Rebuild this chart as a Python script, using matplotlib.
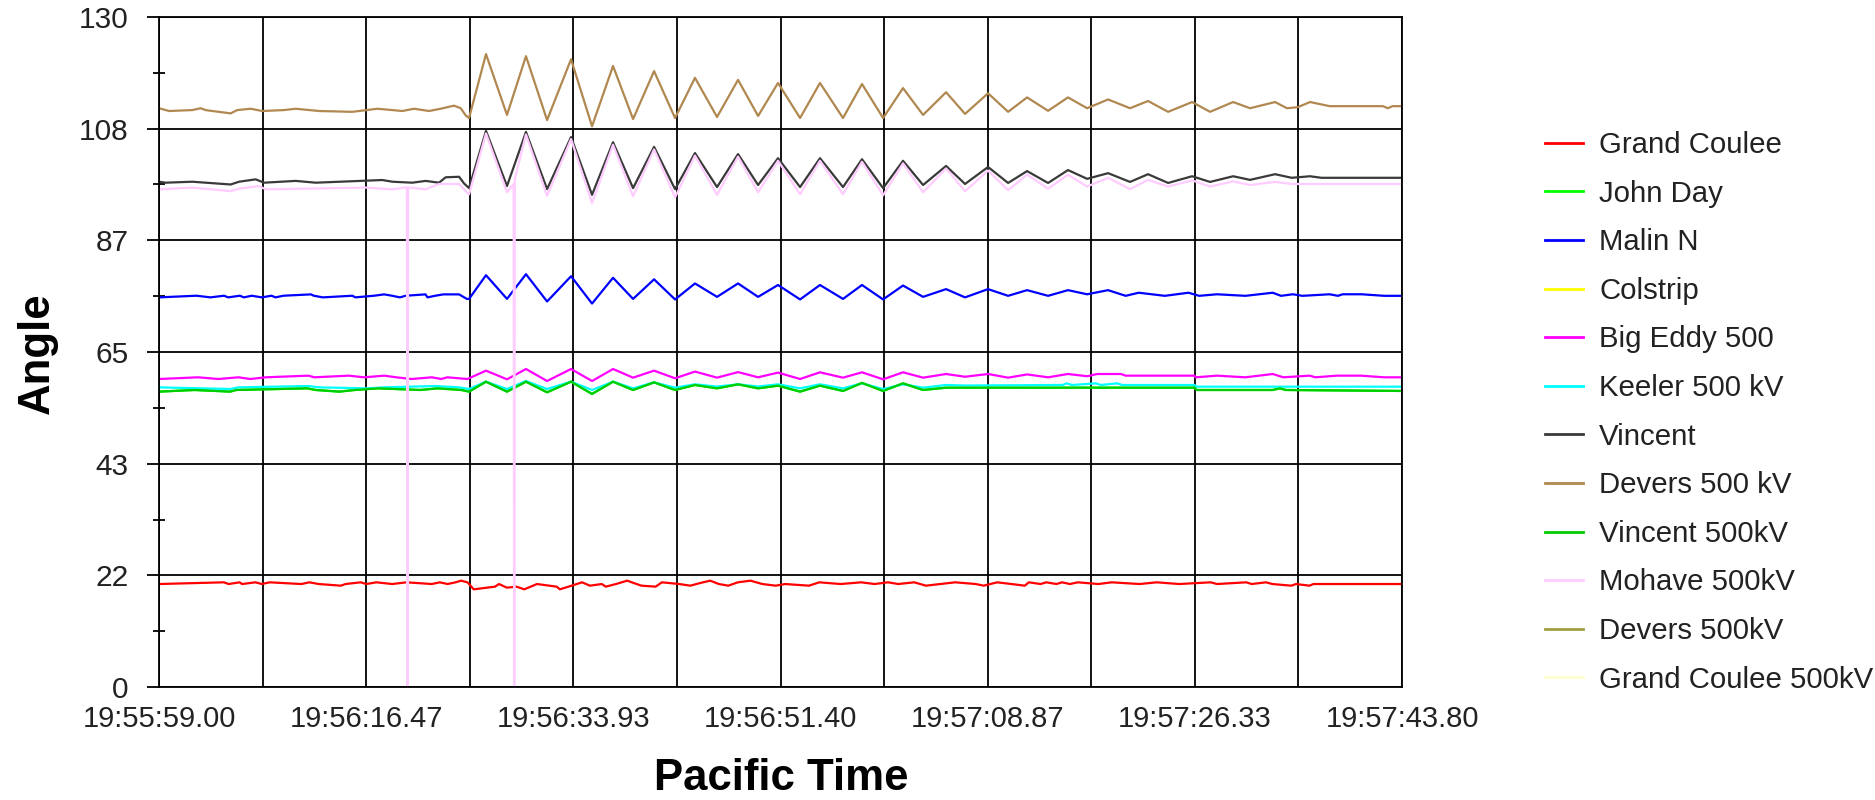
import matplotlib
matplotlib.use("Agg")
import matplotlib.pyplot as plt
import numpy as np

plt.rcParams['font.family'] = ['Liberation Sans', 'DejaVu Sans']

# ---------------- data (time in seconds after 19:55:59.00, angle in degrees) ----------------
x_tick_labels = ['19:55:59.00', '19:56:16.47', '19:56:33.93', '19:56:51.40',
                 '19:57:08.87', '19:57:26.33', '19:57:43.80']
y_tick_labels = ['0', '22', '43', '65', '87', '108', '130']
t_start, t_end = 0.0, 104.8
y_max = 130.0

series_names = ['Grand Coulee', 'John Day', 'Malin N', 'Colstrip', 'Big Eddy 500',
                'Keeler 500 kV', 'Vincent', 'Devers 500 kV', 'Vincent 500kV',
                'Mohave 500kV', 'Devers 500kV', 'Grand Coulee 500kV']
series_colors = ['#FF0000', '#00FF00', '#0000FF', '#FFFF00', '#FF00FF', '#00FFFF',
                 '#3A3A3A', '#B08850', '#00CC00', '#FFCCFF', '#A0A040', '#FFFFCC']

# Grand Coulee (stepped record)
gc_t = [0, 5.47, 5.87, 6.8, 7.0, 8.13, 8.67, 9.33, 12.0, 12.67, 13.47, 15.33, 15.73, 17.0,
        17.47, 18.33, 19.67, 20.87, 23.0, 23.67, 24.33, 25.0, 25.47, 26.0, 26.27, 26.53,
        28.33, 28.67, 29.33, 30.13, 30.8, 31.87, 33.53, 33.8, 34.53, 35.67, 36.33, 37.33,
        37.67, 38.53, 39.47, 40.0, 40.67, 41.87, 42.4, 43.87, 44.8, 45.67, 46.47, 47.2,
        48.0, 48.8, 49.87, 50.87, 52.0, 52.8, 54.8, 55.67, 57.47, 59.2, 60.33, 61.47,
        62.33, 63.67, 64.67, 65.87, 67.13, 68.87, 69.53, 70.67, 71.87, 73.0, 73.33, 74.33,
        74.8, 75.67, 76.13, 76.8, 77.47, 79.2, 80.33, 82.67, 84.13, 86.0, 88.67, 89.2,
        91.67, 92.13, 93.33, 93.87, 95.47, 95.87, 97.0, 97.33, 104.8]
gc_v = [19.98, 20.31, 19.98, 20.31, 19.98, 20.31, 19.98, 20.31, 19.98, 20.31, 19.98, 19.66,
        19.98, 20.31, 19.98, 20.31, 19.98, 20.31, 19.98, 20.31, 19.98, 20.31, 20.63, 20.31,
        19.66, 18.95, 19.47, 19.98, 19.27, 19.47, 18.95, 19.98, 19.47, 18.95, 19.47, 20.31,
        19.66, 19.98, 19.47, 19.98, 20.63, 20.2, 19.66, 19.47, 20.31, 19.98, 19.66, 20.2,
        20.63, 19.98, 19.66, 20.31, 20.63, 19.98, 19.66, 19.98, 19.66, 20.31, 19.98, 20.31,
        19.98, 20.31, 19.98, 20.31, 19.66, 19.98, 20.31, 19.98, 19.66, 20.31, 19.98, 19.66,
        20.31, 19.98, 20.31, 19.98, 20.31, 19.98, 20.31, 19.98, 20.31, 19.98, 20.31, 19.98,
        20.31, 19.98, 20.31, 19.98, 20.31, 19.98, 19.66, 19.98, 19.66, 19.98, 19.98]

# common oscillation instants (peaks / troughs)
osc_t = [26.14, 27.57, 29.34, 30.94, 32.72, 34.74, 36.51, 38.28, 39.97, 41.74, 43.51,
         45.19, 47.05, 48.82, 50.51, 52.19, 54.05, 55.73, 57.67, 59.27, 61.05, 62.73,
         64.42, 66.36]

# Green lines (John Day / Vincent 500kV)
green_t = [0, 3.0, 6.0, 6.5, 12.5, 13.2, 15.2, 16.5, 18.5, 22.0, 23.5, 25.5] + osc_t + \
          [87.3, 87.5, 93.9, 94.5, 95.0, 104.8]
green_v = [57.31, 57.63, 57.31, 57.63, 57.95, 57.63, 57.31, 57.63, 57.95, 57.63, 57.95, 57.63,
           57.31, 59.24, 57.31, 59.24, 57.18, 59.24, 56.86, 59.24, 57.63, 59.11, 57.63, 58.6,
           57.95, 58.73, 57.95, 58.47, 57.31, 58.47, 57.44, 59.0, 57.44, 58.92, 57.63, 58.08,
           58.08, 57.63, 57.63, 57.95, 57.63, 57.44]

# Malin N
malin_t = [0, 3.16, 4.33, 5.49, 5.83, 6.82, 7.16, 7.82, 8.66, 9.49, 9.82, 10.49, 12.82,
           13.05, 13.82, 16.31, 16.55, 18.14, 18.98, 19.64, 20.31, 20.81, 22.47, 22.64,
           23.30, 23.97, 25.30, 25.97] + osc_t + \
          [67.96, 69.90, 71.59, 73.19, 74.96, 76.64, 78.25, 80.02, 81.5, 82.6, 84.8, 86.8,
           87.7, 89.2, 91.6, 93.9, 94.6, 95.6, 96.4, 98.7, 99.4, 99.8, 101.4, 103.3, 104.8]
malin_v = [75.6, 75.92, 75.6, 75.92, 75.6, 75.92, 75.6, 75.92, 75.6, 75.92, 75.6, 75.92, 76.18,
           75.92, 75.6, 75.92, 75.6, 75.92, 76.18, 75.92, 75.6, 75.92, 76.18, 75.6,
           75.92, 76.18, 76.18, 75.28,
           75.3, 79.9, 75.3, 80.1, 74.8, 79.7, 74.4, 79.4, 75.3, 79.1, 75.2, 78.3, 75.7, 78.3,
           75.7, 78.0, 75.2, 78.0, 75.3, 78.0, 75.2, 77.9, 75.7, 77.2,
           75.6, 77.2, 75.9, 77.0, 75.9, 77.0, 76.2, 77.0, 75.9, 76.5, 75.9, 76.5,
           75.9, 76.2, 75.9, 76.5, 75.9, 76.2, 75.9, 76.2, 75.9, 76.2, 76.2, 75.9, 75.9]

# Big Eddy 500
eddy_t = [0, 3.3, 5.0, 6.7, 7.7, 9.0, 12.6, 13.1, 16.0, 17.3, 19.0, 20.0, 21.3, 23.0, 23.8,
          24.3, 26.0] + osc_t[1:] + \
         [67.96, 69.90, 71.59, 73.19, 74.96, 76.64, 78.25, 79.1, 81.1, 81.5, 87.3, 87.4, 89.2,
          91.6, 93.9, 94.8, 97.0, 97.5, 99.3, 101.3, 103.3, 104.8]
eddy_v = [59.76, 60.09, 59.76, 60.09, 59.76, 60.09, 60.41, 60.09, 60.41, 60.09, 60.41, 60.09,
          59.76, 60.09, 59.76, 60.09, 59.76,
          61.38, 59.70, 61.70, 59.37, 61.70, 59.37, 61.70, 60.02, 61.38, 59.9, 61.2, 60.02,
          61.1, 60.09, 61.0, 59.76, 61.06, 60.02, 61.06, 59.70, 61.06, 60.02, 60.73,
          60.2, 60.73, 60.02, 60.65, 60.09, 60.73, 60.3, 60.73, 60.73, 60.41, 60.41, 60.09,
          60.41, 60.09, 60.73, 60.09, 60.41, 60.09, 60.41, 60.41, 60.09, 60.09]

# Keeler 500 kV
keeler_t = [0, 6.0, 6.7, 12.6, 13.5, 17.5, 19.0, 23.3, 25.3] + osc_t + \
           [67.96, 76.2, 76.5, 77.0, 79.0, 79.4, 80.8, 81.2, 87.3, 87.5, 104.8]
keeler_v = [58.14, 57.82, 58.14, 58.4, 58.14, 57.95, 58.14, 58.4, 58.14,
            57.82, 59.24, 57.82, 59.37, 57.82, 59.24, 57.63, 59.24, 57.95, 59.1, 58.08, 58.73,
            58.3, 58.73, 58.3, 58.73, 57.95, 58.73, 57.95, 58.92, 57.82, 58.73, 58.08, 58.6,
            58.5, 58.6, 58.92, 58.6, 58.92, 58.6, 58.92, 58.6, 58.6, 58.27, 58.27]

# Vincent
vincent_t = [0, 0.56, 2.81, 6.04, 6.75, 8.15, 8.85, 11.52, 13.21, 18.83, 19.67, 21.36, 22.48,
             23.61, 24.17, 25.30, 25.72] + osc_t + \
            [67.96, 69.90, 71.59, 73.19, 74.96, 76.64, 78.25, 80.02, 81.87, 83.39, 85.08,
             87.10, 88.62, 90.56, 91.99, 94.10, 95.5, 97.05, 98.0, 104.8]
vincent_v = [98.04, 97.85, 98.04, 97.5, 98.04, 98.5, 97.85, 98.2, 97.85, 98.37, 98.04, 97.85,
             98.2, 97.85, 98.9, 99.0, 97.7,
             96.8, 107.9, 97.2, 107.7, 96.6, 106.7, 95.5, 105.7, 96.8, 104.8, 96.6, 103.6,
             97.0, 103.4, 97.4, 102.6, 97.0, 102.6, 97.0, 102.4, 96.8, 102.1, 97.4, 101.1,
             97.6, 100.9, 97.8, 100.1, 97.8, 100.3, 98.6, 99.7, 98.0, 99.5, 97.8, 99.1, 98.0,
             99.1, 98.4, 99.5, 98.8, 99.1, 98.8, 98.8]

# Devers 500 kV
devers_t = [0, 0.84, 2.81, 3.51, 3.93, 4.50, 6.04, 6.60, 7.73, 8.71, 10.54, 11.52, 13.49,
            16.30, 18.41, 19.67, 20.52, 21.50, 22.77, 23.75, 24.87, 25.44, 25.86] + osc_t + \
           [67.96, 69.90, 71.59, 73.19, 74.96, 76.64, 78.25, 80.02, 81.87, 83.39, 85.08,
            87.10, 88.62, 90.56, 91.99, 94.10, 95.10, 96.0, 97.05, 98.7, 103.2, 103.6, 104.0,
            104.8]
devers_v = [112.3, 111.76, 111.94, 112.3, 111.94, 111.76, 111.3, 111.94, 112.2, 111.76, 111.94,
            112.2, 111.76, 111.6, 112.2, 111.94, 111.76, 112.2, 111.76, 112.2, 112.8, 112.3,
            110.9,
            110.4, 122.8, 111.0, 122.4, 110.0, 121.8, 108.8, 120.5, 110.2, 119.5, 110.4, 118.2,
            110.6, 117.8, 110.8, 117.2, 110.4, 117.2, 110.4, 117.0, 110.4, 116.2, 111.0, 115.4,
            111.2, 115.2, 111.6, 114.4, 111.8, 114.4, 112.3, 114.0, 112.3, 113.7, 111.6, 113.5,
            111.6, 113.5, 112.3, 113.5, 112.3, 112.5, 113.5, 112.7, 112.7, 112.3, 112.7, 112.7]

# Mohave 500kV (two drop-outs to zero)
mohave_t = [0, 2.81, 6.04, 6.75, 8.43, 8.99, 17.43, 19.67, 20.90, 20.95, 21.0, 22.48, 23.61,
            25.30, 25.86, 26.14, 27.57, 29.34, 29.90, 29.95, 30.0, 30.94, 32.72, 34.74, 36.51,
            38.28, 39.97, 41.74, 43.51, 45.19, 47.05, 48.82, 50.51, 52.19, 54.05, 55.73, 57.67,
            59.27, 61.05, 62.73, 64.42, 66.36, 67.96, 69.90, 71.59, 73.19, 74.96, 76.64, 78.25,
            80.02, 81.87, 83.39, 85.08, 87.10, 88.62, 90.56, 91.99, 94.10, 95.5, 104.8]
mohave_v = [96.56, 96.9, 96.2, 96.7, 97.2, 96.56, 96.9, 96.56, 96.95, 0.0, 96.95, 96.56, 97.6,
            97.6, 96.2, 95.6, 107.4, 96.0, 97.6, 0.0, 98.6, 107.2, 95.3, 106.3, 93.9,
            105.2, 95.2, 104.3, 95.0, 103.1, 95.5, 102.9, 96.0, 102.1, 95.6, 102.1, 95.6,
            101.9, 95.4, 101.6, 96.0, 100.6, 96.2, 100.2, 96.4, 99.4, 96.7, 99.4, 97.1,
            98.8, 96.6, 98.4, 97.1, 98.3, 97.1, 98.1, 97.4, 98.0, 97.6, 97.6]

series_t = [gc_t, green_t, malin_t, [], eddy_t, keeler_t, vincent_t, devers_t, green_t,
            mohave_t, [], []]
series_v = [gc_v, green_v, malin_v, [], eddy_v, keeler_v, vincent_v, devers_v, green_v,
            mohave_v, [], []]

# ---------------- figure ----------------
fig = plt.figure(figsize=(18.75, 8), dpi=100)
ax = fig.add_axes([159 / 1875, 1 - 687 / 800, (1402 - 159) / 1875, (687 - 17) / 800])

handles = []
for name, col, tt, vv in zip(series_names, series_colors, series_t, series_v):
    h, = ax.plot(tt, vv, color=col, lw=1.6, label=name, solid_joinstyle='round')
    handles.append(h)

ax.set_xlim(t_start, t_end)
ax.set_ylim(0, y_max)

xt = np.linspace(t_start, t_end, 13)
ax.set_xticks(xt)
ax.set_xticklabels([x_tick_labels[i // 2] if i % 2 == 0 else '' for i in range(13)])
yt = np.linspace(0, y_max, 7)
ax.set_yticks(yt)
ax.set_yticklabels(y_tick_labels)
ax.set_yticks((yt[:-1] + yt[1:]) / 2, minor=True)

ax.tick_params(axis='x', which='major', length=0, pad=13, labelsize=21, labelcolor='#222222')
ax.tick_params(axis='y', which='major', length=9, width=1.3, direction='out', pad=13,
               labelsize=21.5, labelcolor='#222222')
ax.tick_params(axis='y', which='minor', length=9, width=1.3, direction='inout')
ax.grid(True, which='major', color='black', lw=1.3)
ax.set_axisbelow(True)
for s in ax.spines.values():
    s.set_color('black')
    s.set_linewidth(1.3)

fig.text(37 / 1875, 1 - 353 / 800, 'Angle', rotation=90, ha='center', va='center',
         fontsize=31.5, fontweight='bold')
fig.text(781 / 1875, 0.013, 'Pacific Time', ha='center', va='baseline',
         fontsize=31.5, fontweight='bold')

leg = fig.legend(handles=handles, loc='upper left', bbox_to_anchor=(1545 / 1875, 1 - 131 / 800),
                 frameon=False, fontsize=21.2, handlelength=1.3, handletextpad=0.54,
                 labelspacing=0.70, borderpad=0, borderaxespad=0)
for line in leg.get_lines():
    line.set_linewidth(2)
for txt in leg.get_texts():
    txt.set_color('#222222')

fig.savefig('out.png', dpi=100)
